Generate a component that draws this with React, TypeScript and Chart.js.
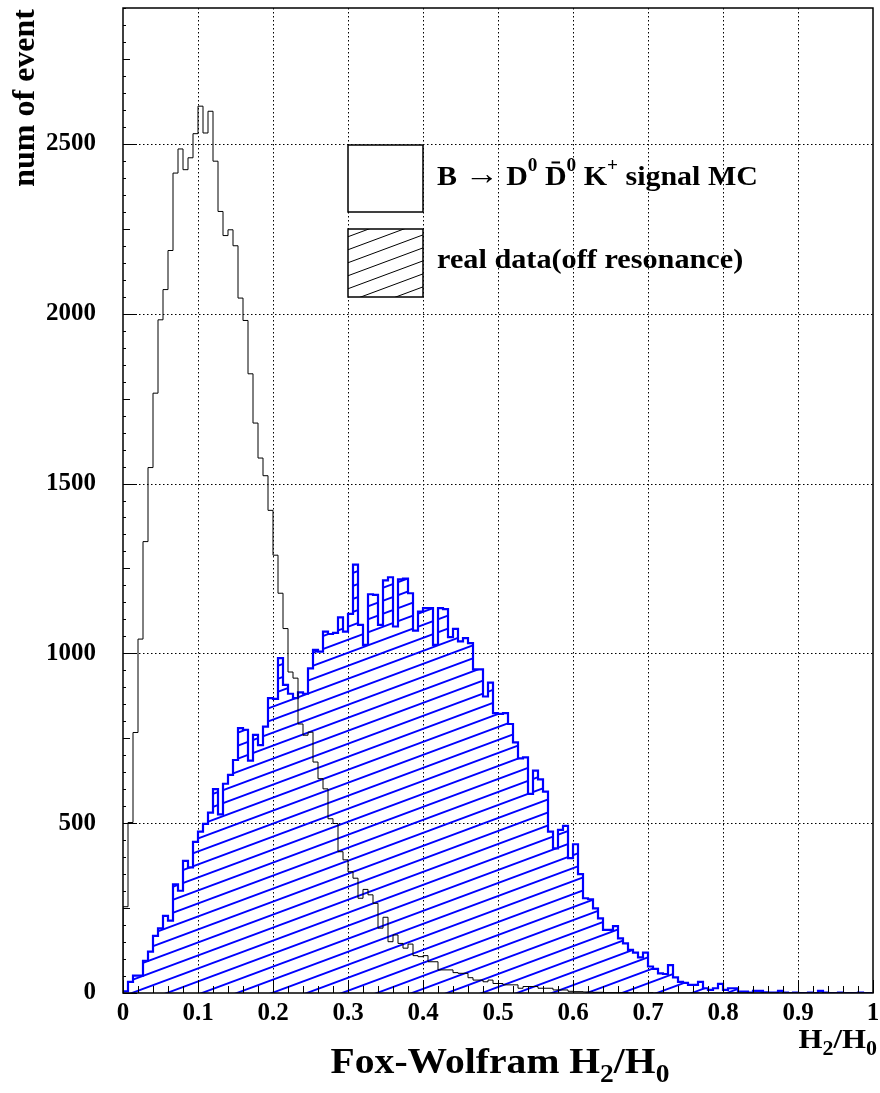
import React, { useEffect, useRef } from "react";
import { Chart, registerables } from "chart.js";

Chart.register(...registerables);

const FAMILY = "'Liberation Serif', 'Times New Roman', Times, serif";

// ---- data ----
const X_MIN = 0;
const X_MAX = 1;
const Y_MAX = 2900;
const X_MAJOR_TICKS = [0, 0.1, 0.2, 0.3, 0.4, 0.5, 0.6, 0.7, 0.8, 0.9, 1];
const X_TICK_LABELS = ["0", "0.1", "0.2", "0.3", "0.4", "0.5", "0.6", "0.7", "0.8", "0.9", "1"];
const Y_MAJOR_TICKS = [0, 500, 1000, 1500, 2000, 2500];
const Y_TICK_LABELS = ["0", "500", "1000", "1500", "2000", "2500"];

// B -> D0 D0bar K+ signal MC (150 bins of width 1/150)
const signalMC = [
  58, 254, 502, 767, 1042, 1329, 1547, 1766, 1982, 2071,
  2186, 2414, 2485, 2424, 2459, 2530, 2611, 2532, 2596, 2449,
  2301, 2230, 2247, 2200, 2046, 1980, 1823, 1678, 1575, 1523,
  1421, 1289, 1177, 1073, 945, 927, 792, 759, 768, 680,
  631, 601, 513, 499, 416, 392, 357, 338, 279, 305,
  289, 264, 191, 223, 151, 171, 146, 132, 144, 110,
  107, 110, 92, 92, 68, 68, 68, 60, 58, 58,
  45, 38, 38, 33, 38, 28, 28, 24, 24, 24,
  14, 19, 19, 19, 14, 14, 14, 9, 9, 9,
  5, 4, 4, 3, 3, 2, 2, 1, 1, 1,
  1, 1, 0, 1, 0, 0, 1, 0, 0, 0,
  0, 0, 0, 0, 0, 0, 0, 0, 0, 0,
  0, 0, 0, 0, 0, 0, 0, 0, 0, 0,
  0, 0, 0, 0, 0, 0, 0, 0, 0, 0,
  0, 0, 0, 0, 0, 0, 0, 0, 0, 0,
];

// real data (off resonance)
const offResonance = [
  3, 5, 33, 51, 51, 95, 122, 168, 190, 227,
  213, 320, 301, 389, 370, 445, 475, 498, 531, 600,
  526, 616, 642, 686, 780, 775, 684, 760, 730, 784,
  868, 866, 986, 907, 881, 868, 885, 881, 956, 1010,
  1005, 1064, 1057, 1060, 1106, 1064, 1116, 1261, 1084, 1025,
  1174, 1172, 1084, 1215, 1224, 1079, 1218, 1220, 1177, 1067,
  1123, 1133, 1133, 1025, 1133, 1130, 1048, 1072, 1035, 1045,
  1030, 953, 953, 873, 914, 824, 822, 824, 792, 738,
  691, 694, 586, 655, 629, 593, 475, 426, 480, 492,
  397, 438, 350, 279, 276, 249, 220, 186, 186, 197,
  161, 146, 127, 119, 105, 119, 78, 71, 58, 56,
  82, 46, 33, 30, 24, 24, 33, 14, 9, 14,
  27, 9, 14, 14, 4, 4, 1, 6, 6, 2,
  1, 1, 6, 1, 0, 1, 0, 0, 1, 0,
  6, 1, 0, 0, 1, 0, 0, 0, 1, 0,
];

function stepPoints(counts: number[]) {
  const w = (X_MAX - X_MIN) / counts.length;
  const pts: { x: number; y: number }[] = [{ x: X_MIN, y: 0 }];
  counts.forEach((c, i) => pts.push({ x: X_MIN + i * w, y: c }));
  pts.push({ x: X_MAX, y: counts[counts.length - 1] });
  pts.push({ x: X_MAX, y: 0 });
  return pts;
}

function makeHatch(color: string, lw: number): CanvasPattern {
  const W = 35;
  const H = 13;
  const c = document.createElement("canvas");
  c.width = W;
  c.height = H;
  const g = c.getContext("2d")!;
  g.strokeStyle = color;
  g.lineWidth = lw;
  const k = H / W;
  for (const c0 of [-11, 2, 15, 28]) {
    g.beginPath();
    g.moveTo(-1, c0 + k);
    g.lineTo(W + 1, c0 - H - k);
    g.stroke();
  }
  return g.createPattern(c, "repeat")!;
}

type Part = { t: string; size: number; dy?: number; bar?: boolean };

function drawRich(
  ctx: CanvasRenderingContext2D,
  parts: Part[],
  x: number,
  y: number,
  sx: number,
  align: "left" | "center" | "right"
) {
  ctx.save();
  ctx.textAlign = "left";
  ctx.textBaseline = "alphabetic";
  let w = 0;
  const widths: number[] = [];
  for (const p of parts) {
    ctx.font = `bold ${p.size}px ${FAMILY}`;
    const m = ctx.measureText(p.t).width;
    widths.push(m);
    w += m;
  }
  const x0 = align === "left" ? x : align === "center" ? x - (w * sx) / 2 : x - w * sx;
  ctx.translate(x0, y);
  ctx.scale(sx, 1);
  let cx = 0;
  parts.forEach((p, i) => {
    ctx.font = `bold ${p.size}px ${FAMILY}`;
    ctx.fillText(p.t, cx, p.dy || 0);
    if (p.bar) {
      const mid = cx + widths[i] / 2;
      ctx.fillRect(mid - 4, -p.size * 0.84, 8, 2);
    }
    cx += widths[i];
  });
  ctx.restore();
}

const decorPlugin = {
  id: "decor",
  beforeDatasetsDraw(chart: any) {
    const { ctx, chartArea, scales } = chart;
    const { left, right, top, bottom } = chartArea;
    const xs = scales.x;
    const ys = scales.y;
    ctx.save();
    ctx.strokeStyle = "#000";
    ctx.lineWidth = 1;
    ctx.setLineDash([1.5, 2.5]);
    for (const v of X_MAJOR_TICKS) {
      if (v <= X_MIN || v >= X_MAX) continue;
      const px = Math.round(xs.getPixelForValue(v)) + 0.5;
      ctx.beginPath();
      ctx.moveTo(px, top);
      ctx.lineTo(px, bottom);
      ctx.stroke();
    }
    for (const v of Y_MAJOR_TICKS) {
      if (v <= 0) continue;
      const py = Math.round(ys.getPixelForValue(v)) + 0.5;
      ctx.beginPath();
      ctx.moveTo(left, py);
      ctx.lineTo(right, py);
      ctx.stroke();
    }
    ctx.restore();
  },
  afterDraw(chart: any) {
    const { ctx, chartArea, scales } = chart;
    const { left, right, top, bottom } = chartArea;
    const xs = scales.x;
    const ys = scales.y;
    ctx.save();
    // frame
    ctx.strokeStyle = "#000";
    ctx.lineWidth = 1.5;
    ctx.strokeRect(left, top, right - left, bottom - top);
    // x ticks
    ctx.lineWidth = 1;
    for (let i = 0; i <= 50; i++) {
      const v = X_MIN + (i * (X_MAX - X_MIN)) / 50;
      const px = Math.round(xs.getPixelForValue(v)) + 0.5;
      const len = i % 5 === 0 ? 13 : 7;
      ctx.beginPath();
      ctx.moveTo(px, bottom);
      ctx.lineTo(px, bottom - len);
      ctx.stroke();
    }
    // y ticks
    for (let v = 0; v <= Y_MAX; v += 50) {
      const py = Math.round(ys.getPixelForValue(v)) + 0.5;
      const len = v % 500 === 0 ? 14 : v % 250 === 0 ? 7 : 3;
      ctx.beginPath();
      ctx.moveTo(left, py);
      ctx.lineTo(left + len, py);
      ctx.stroke();
    }
    ctx.fillStyle = "#000";
    // y title
    ctx.save();
    ctx.translate(34, 9);
    ctx.rotate(-Math.PI / 2);
    ctx.font = `bold 32px ${FAMILY}`;
    ctx.textAlign = "right";
    ctx.textBaseline = "alphabetic";
    ctx.fillText("num of event", 0, 0);
    ctx.restore();
    // x title
    drawRich(
      ctx,
      [
        { t: "Fox-Wolfram H", size: 36 },
        { t: "2", size: 25, dy: 9 },
        { t: "/H", size: 36 },
        { t: "0", size: 25, dy: 9 },
      ],
      (left + right) / 2 + 2,
      1073,
      1.1,
      "center"
    );
    // axis unit label at right
    drawRich(
      ctx,
      [
        { t: "H", size: 28 },
        { t: "2", size: 20, dy: 7 },
        { t: "/H", size: 28 },
        { t: "0", size: 20, dy: 7 },
      ],
      877,
      1048,
      1.1,
      "right"
    );
    // legend
    ctx.fillStyle = "#fff";
    ctx.fillRect(348, 145, 75, 67);
    ctx.strokeStyle = "#000";
    ctx.lineWidth = 1.5;
    ctx.strokeRect(348, 145, 75, 67);
    ctx.fillStyle = "#fff";
    ctx.fillRect(348, 229, 75, 68);
    ctx.fillStyle = makeHatch("#000", 1);
    ctx.fillRect(348, 229, 75, 68);
    ctx.strokeRect(348, 229, 75, 68);
    ctx.fillStyle = "#000";
    drawRich(
      ctx,
      [
        { t: "B ", size: 28 },
        { t: "\u2192", size: 32, dy: -1 },
        { t: " D", size: 28 },
        { t: "0", size: 18, dy: -14 },
        { t: " ", size: 28 },
        { t: "D", size: 28, bar: true },
        { t: "0", size: 18, dy: -14 },
        { t: " K", size: 28 },
        { t: "+", size: 18, dy: -14 },
        { t: " signal MC", size: 28 },
      ],
      437,
      185,
      1.07,
      "left"
    );
    drawRich(ctx, [{ t: "real data(off resonance)", size: 28 }], 437, 268, 1.08, "left");
    ctx.restore();
  },
};

export default function App() {
  const ref = useRef<HTMLCanvasElement | null>(null);
  useEffect(() => {
    document.body.style.margin = "0";
    const canvas = ref.current!;
    const hatch = makeHatch("#0000ff", 1.9);
    const tickFont = { family: FAMILY, size: 25, weight: "bold" as const };
    const chart = new Chart(canvas, {
      type: "line",
      data: {
        datasets: [
          {
            label: "B -> D0 D0bar K+ signal MC",
            data: stepPoints(signalMC),
            stepped: "after",
            borderColor: "#000000",
            borderWidth: 1,
            pointRadius: 0,
            fill: false,
            order: 0,
          },
          {
            label: "real data(off resonance)",
            data: stepPoints(offResonance),
            stepped: "after",
            borderColor: "#0000ff",
            borderWidth: 2.2,
            pointRadius: 0,
            fill: "origin",
            backgroundColor: hatch,
            order: 1,
          },
        ],
      },
      options: {
        animation: false,
        responsive: false,
        devicePixelRatio: 1,
        layout: { padding: { top: 8, right: 7, left: 0, bottom: 0 } },
        plugins: { legend: { display: false }, tooltip: { enabled: false } },
        scales: {
          x: {
            type: "linear",
            min: X_MIN,
            max: X_MAX,
            afterFit: (s: any) => {
              s.height = 100;
              s.paddingLeft = 0;
              s.paddingRight = 0;
            },
            afterBuildTicks: (s: any) => {
              s.ticks = X_MAJOR_TICKS.map((v) => ({ value: v }));
            },
            grid: { display: false, drawTicks: false },
            border: { display: false },
            ticks: {
              autoSkip: false,
              maxRotation: 0,
              minRotation: 0,
              padding: 6,
              color: "#000",
              font: tickFont,
              callback: (v: any) => {
                const i = X_MAJOR_TICKS.findIndex((t) => Math.abs(t - Number(v)) < 1e-9);
                return i >= 0 ? X_TICK_LABELS[i] : "";
              },
            },
          },
          y: {
            type: "linear",
            min: 0,
            max: Y_MAX,
            afterFit: (s: any) => {
              s.width = 123;
              s.paddingTop = 0;
              s.paddingBottom = 0;
            },
            afterBuildTicks: (s: any) => {
              s.ticks = Y_MAJOR_TICKS.map((v) => ({ value: v }));
            },
            grid: { display: false, drawTicks: false },
            border: { display: false },
            ticks: {
              autoSkip: false,
              padding: 27,
              color: "#000",
              font: tickFont,
              callback: (v: any) => {
                const i = Y_MAJOR_TICKS.indexOf(Number(v));
                return i >= 0 ? Y_TICK_LABELS[i] : "";
              },
            },
          },
        },
      },
      plugins: [decorPlugin],
    });
    return () => chart.destroy();
  }, []);
  return (
    <div style={{ position: "absolute", left: 0, top: 0, width: 880, height: 1093 }}>
      <canvas ref={ref} width={880} height={1093} style={{ width: 880, height: 1093, display: "block" }} />
    </div>
  );
}
